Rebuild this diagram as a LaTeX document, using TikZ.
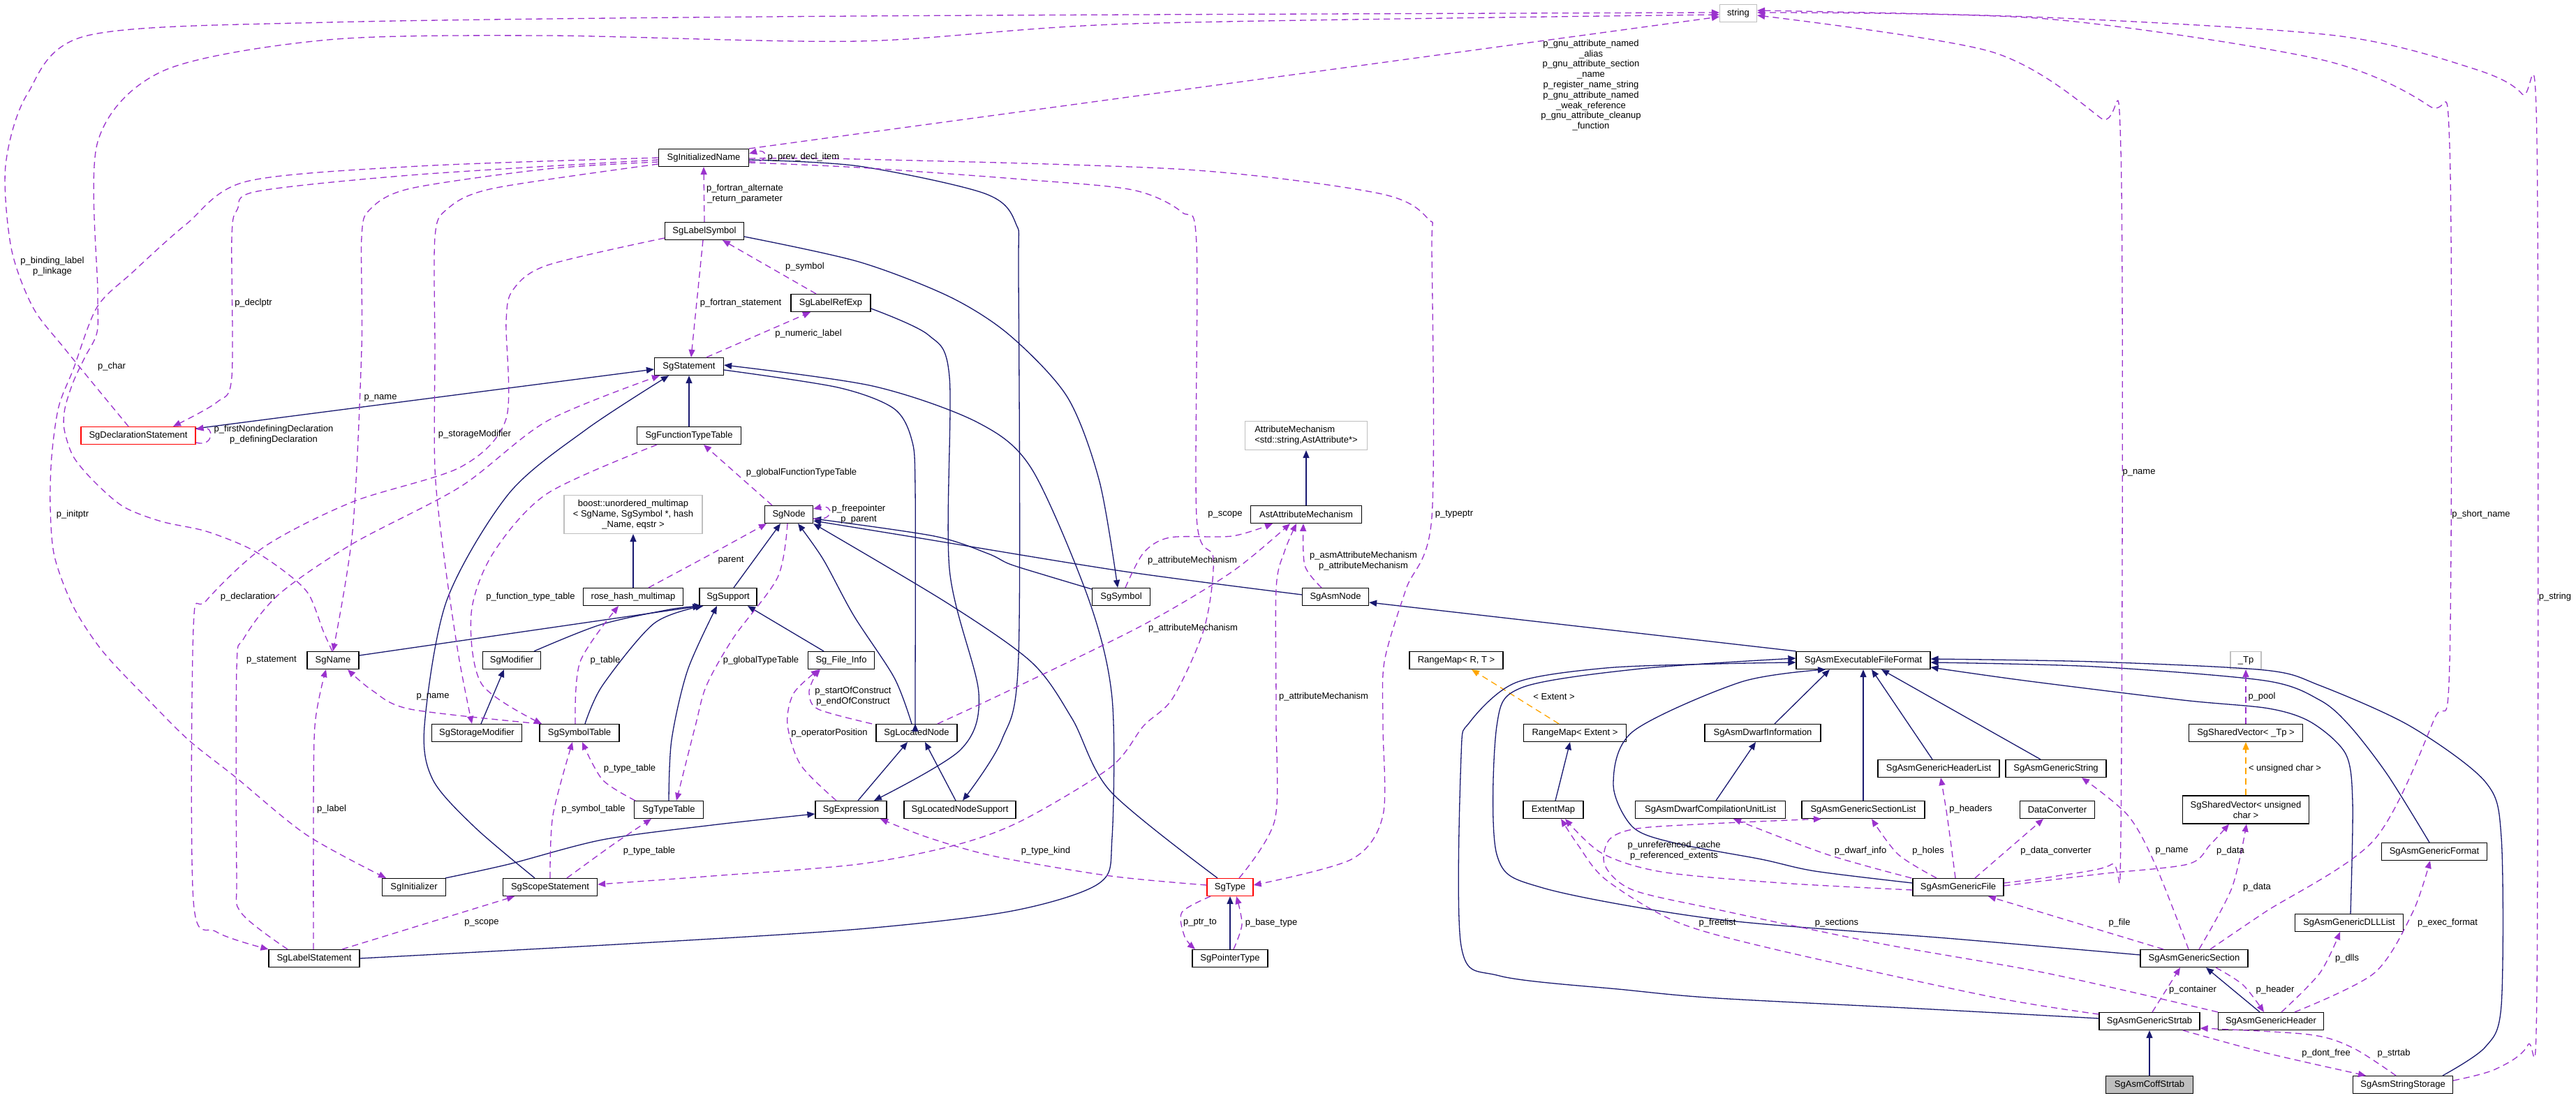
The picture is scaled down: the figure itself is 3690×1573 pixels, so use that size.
\documentclass[tikz,border=0pt]{standalone}
\usepackage{fontspec}
\setmainfont{Liberation Sans}
\usetikzlibrary{arrows.meta}
\definecolor{navyc}{HTML}{191970}
\definecolor{purp}{HTML}{9A32CD}
\definecolor{grayb}{HTML}{BFBFBF}
\definecolor{orng}{HTML}{FFA500}
\newcommand\dfont{\fontsize{13}{14.8}\selectfont}
\newcommand\mkn[6][]{\node[cls,minimum width=#5pt,#1] (#2) at (#3,#4) {#6};}
\tikzset{
 cls/.style={draw=black, line width=1.2pt, fill=white, minimum height=25pt, inner sep=0pt, font=\dfont},
 graycls/.style={draw=grayb},
 redcls/.style={draw=red},
 inh/.style={draw=navyc, line width=1.3pt, -{Triangle[length=11pt,width=9pt]}},
 use/.style={draw=purp, line width=1.3pt, dash pattern=on 9pt off 6pt, -{Triangle[length=11pt,width=9pt]}},
 tmpl/.style={draw=orng, line width=1.3pt, dash pattern=on 9pt off 6pt, -{Triangle[length=11pt,width=9pt]}},
 lbl/.style={font=\dfont, inner sep=0pt, align=center},
}
\begin{document}
\begin{tikzpicture}[x=1pt,y=-1pt]
\fill[white] (0,0) rectangle (3690,1573);
\useasboundingbox (0,0) rectangle (3690,1573);
% nodes
\mkn[graycls]{string}{2490}{19}{53}{string}
\mkn{InitN}{1008}{226}{129}{SgInitializedName}
\mkn{LabSym}{1009}{331}{113}{SgLabelSymbol}
\mkn{LabRef}{1190}{434}{114}{SgLabelRefExp}
\mkn{Stmt}{987}{525}{99}{SgStatement}
\mkn[redcls]{Decl}{198}{624}{164}{SgDeclarationStatement}
\mkn{FTT}{987}{624}{149}{SgFunctionTypeTable}
\mkn[graycls,minimum height=55pt,align=center]{Boost}{907}{737}{198}{boost::unordered\_multimap\\< SgName, SgSymbol *, hash\\\_Name, eqstr >}
\mkn[graycls,minimum height=41pt,align=left]{AttrM}{1871}{624}{175}{AttributeMechanism\\<std::string,AstAttribute*>}
\mkn{Node}{1130}{737}{69}{SgNode}
\mkn{AstAM}{1871}{737}{159}{AstAttributeMechanism}
\mkn{RHM}{907}{855}{143}{rose\_hash\_multimap}
\mkn{Supp}{1043}{855}{82}{SgSupport}
\mkn{Sym}{1606}{855}{83}{SgSymbol}
\mkn{AsmNode}{1913}{855}{95}{SgAsmNode}
\mkn{Name}{477}{946}{74}{SgName}
\mkn{Mod}{733}{946}{83}{SgModifier}
\mkn{FI}{1205}{946}{95}{Sg\_File\_Info}
\mkn{RMRT}{2086}{946}{134}{RangeMap< R, T >}
\mkn{EFF}{2669}{946}{192}{SgAsmExecutableFileFormat}
\mkn[graycls]{Tp}{3217}{946}{44}{\_Tp}
\mkn{SMod}{683}{1050}{129}{SgStorageModifier}
\mkn{SymT}{830}{1050}{114}{SgSymbolTable}
\mkn{LN}{1313}{1050}{116}{SgLocatedNode}
\mkn{RME}{2256}{1050}{147}{RangeMap< Extent >}
\mkn{DI}{2525}{1050}{166}{SgAsmDwarfInformation}
\mkn{SVTp}{3217}{1050}{163}{SgSharedVector< \_Tp >}
\mkn{GHL}{2777}{1101}{174}{SgAsmGenericHeaderList}
\mkn{GS}{2945}{1101}{144}{SgAsmGenericString}
\mkn{TT}{958}{1160}{99}{SgTypeTable}
\mkn{Expr}{1219}{1160}{102}{SgExpression}
\mkn{LNS}{1375}{1160}{160}{SgLocatedNodeSupport}
\mkn{EM}{2225}{1160}{86}{ExtentMap}
\mkn{DCU}{2450}{1160}{215}{SgAsmDwarfCompilationUnitList}
\mkn{GSL}{2669}{1160}{176}{SgAsmGenericSectionList}
\mkn{DC}{2947}{1160}{107}{DataConverter}
\mkn[minimum height=40pt,align=center]{SVuc}{3217}{1160}{181}{SgSharedVector< unsigned\\char >}
\mkn{GF}{3487}{1220}{151}{SgAsmGenericFormat}
\mkn{Init}{593}{1271}{91}{SgInitializer}
\mkn{Scope}{788}{1271}{135}{SgScopeStatement}
\mkn[redcls]{Type}{1762}{1271}{66}{SgType}
\mkn{GFile}{2805}{1271}{130}{SgAsmGenericFile}
\mkn{DLL}{3365}{1322}{155}{SgAsmGenericDLLList}
\mkn{LabSt}{450}{1373}{130}{SgLabelStatement}
\mkn{PT}{1762}{1373}{108}{SgPointerType}
\mkn{GSec}{3143}{1373}{154}{SgAsmGenericSection}
\mkn{Strtab}{3079}{1463}{144}{SgAsmGenericStrtab}
\mkn{GH}{3253}{1463}{151}{SgAsmGenericHeader}
\mkn[fill=grayb]{Coff}{3079}{1554}{125}{SgAsmCoffStrtab}
\mkn{SS}{3442}{1554}{143}{SgAsmStringStorage}
% inheritance
\draw[inh] ([yshift=-3pt]Decl.north east) -- ([yshift=-4pt]Stmt.west);
\draw[inh] (FTT.north) -- (Stmt.south);
\draw[inh] plot[smooth] coordinates {([xshift=-22pt]Scope.north) (680,1185) (620,1117) (608,1040) (640,860) (729,707) (840,615) ([xshift=-29pt]Stmt.south)};
\draw[inh] plot[smooth] coordinates {(LabSt.east) (900,1352) (1230,1331) (1450,1305) (1575,1265) (1593,1200) (1593,1000) (1560,860) (1478,672) (1400,605) (1250,553) ([yshift=2pt]Stmt.east)};
\draw[inh] plot[smooth] coordinates {([yshift=-5pt]Stmt.east) (1200,555) (1280,585) (1306,630) (1311,700) (1311,1000) ([xshift=-2pt]LN.north)};
\draw[inh] plot[smooth] coordinates {([yshift=-8pt]LabSym.east) (1230,375) (1360,425) (1446,480) (1529,569) (1575,690) ([xshift=-5pt]Sym.north)};
\draw[inh] plot[smooth] coordinates {([yshift=-3pt]InitN.east) (1230,238) (1410,277) (1455,320) (1459,400) (1459,940) (1435,1060) ([xshift=4pt]LNS.north)};
\draw[inh] plot[smooth] coordinates {([yshift=-8pt]LabRef.east) (1330,480) (1360,540) (1360,815) (1402,993) (1376,1074) ([xshift=33pt]Expr.north)};
\draw[inh] ([xshift=10pt]Expr.north) -- ([xshift=-13pt]LN.south);
\draw[inh] plot[smooth] coordinates {([xshift=45pt]Init.north) (729,1238) (863,1203) (1020,1182) ([yshift=-6pt]Expr.west)};
\draw[inh] plot[smooth] coordinates {([xshift=-7pt]LN.north) (1281,971) (1223,882) (1179,801) ([xshift=13pt]Node.south)};
\draw[inh] ([xshift=-6pt]LNS.north) -- ([xshift=12pt]LN.south);
\draw[inh] ([xshift=8pt]Supp.north) -- ([xshift=-12pt]Node.south);
\draw[inh] plot[smooth] coordinates {([xshift=-18pt]Type.north) (1591,1134) (1536,1030) (1478,949) (1357,864) (Node.south east)};
\draw[inh] plot[smooth] coordinates {([yshift=11pt]Sym.west) (1497,824) (1446,808) (1415,793) (1338,768) ([yshift=-6pt]Node.east)};
\draw[inh] plot[smooth] coordinates {([yshift=3pt]AsmNode.west) (1606,818) (1300,768) ([yshift=-9pt]Node.east)};
\draw[inh] (AstAM.north) -- (AttrM.south);
\draw[inh] (EFF.north west) -- ([yshift=-8pt]AsmNode.east);
\draw[inh] (RHM.north) -- (Boost.south);
\draw[inh] ([yshift=7pt]Name.east) -- ([xshift=2pt]Supp.south west);
\draw[inh] plot[smooth] coordinates {([xshift=32pt]Mod.north) (860,895) (960,873) ([xshift=4pt]Supp.south west)};
\draw[inh] ([xshift=6pt]SMod.north) -- ([xshift=-11pt]Mod.south);
\draw[inh] plot[smooth] coordinates {([xshift=8pt]SymT.north) (863,982) (937,893) ([xshift=6pt]Supp.south west)};
\draw[inh] plot[smooth] coordinates {(TT.north) (962,1060) (985,960) ([xshift=-16pt]Supp.south)};
\draw[inh] ([xshift=-25pt]FI.north) -- ([xshift=28pt]Supp.south);
\draw[inh] ([xshift=17pt]DI.north) -- ([xshift=-48pt]EFF.south);
\draw[inh] ([xshift=8pt]DCU.north) -- ([xshift=-10pt]DI.south);
\draw[inh] (GSL.north) -- (EFF.south);
\draw[inh] ([xshift=-9pt]GHL.north) -- ([xshift=12pt]EFF.south);
\draw[inh] ([xshift=-22pt]GS.north) -- ([xshift=26pt]EFF.south);
\draw[inh] plot[smooth] coordinates {([yshift=6pt]GFile.west) (2600,1248) (2523,1231) (2400,1208) (2339,1185) (2311,1124) (2339,1048) (2494,977) ([xshift=-54pt]EFF.south)};
\draw[tmpl] ([xshift=-23pt]RME.north) -- ([xshift=22pt]RMRT.south);
\draw[inh] ([xshift=3pt]EM.north) -- ([xshift=-7pt]RME.south);
\draw[inh] plot[smooth] coordinates {([yshift=4pt]Strtab.west) (2750,1445) (2460,1430) (2328,1418) (2148,1398) (2093,1355) (2093,1082) (2105,1035) (2171,978) (2300,957) (2460,951) ([yshift=-3pt]EFF.west)};
\draw[inh] plot[smooth] coordinates {([yshift=5pt]GSec.west) (2800,1345) (2460,1317) (2210,1272) (2144,1224) (2144,1040) (2180,985) (2350,958) ([yshift=3pt]EFF.west)};
\draw[inh] ([xshift=-16pt]GH.north) -- ([xshift=17pt]GSec.south);
\draw[inh] (Coff.north) -- (Strtab.south);
\draw[inh] plot[smooth] coordinates {([xshift=2pt]DLL.north) (3370,1150) (3360,1080) (3311,1035) (3250,1015) (3127,1003) (2900,975) ([yshift=-10pt]EFF.east)};
\draw[inh] plot[smooth] coordinates {([xshift=-7pt]GF.north) (3420,1110) (3366,1040) (3323,1003) (3244,975) (3000,955) ([yshift=-3pt]EFF.east)};
\draw[inh] plot[smooth] coordinates {([xshift=57pt]SS.north) (3560,1500) (3583,1440) (3583,1200) (3560,1120) (3452,1040) (3323,982) (3244,960) (3000,948) ([yshift=2pt]EFF.east)};
\draw[inh] (PT.north) -- (Type.south);
% usage
\draw[use] (InitN.north east) -- ([yshift=-5pt]string.west);
\draw[use] ([yshift=-5pt]InitN.east) .. controls (1102,236) and (1102,212) .. ([yshift=6pt]InitN.east);
\draw[use] (LabSym.north) -- (InitN.south);
\draw[use] ([xshift=-21pt]LabRef.north) -- ([xshift=26pt]LabSym.south);
\draw[use] ([xshift=-2pt]LabSym.south) -- ([xshift=3pt]Stmt.north);
\draw[use] ([xshift=25pt]Stmt.north) -- ([xshift=-29pt]LabRef.south);
\draw[use] plot[smooth] coordinates {([xshift=-14pt]Decl.north) (93,500) (47,440) (16,355) (8,237) (39,135) (125,51) (470,32) (1230,23) ([yshift=1pt]string.west)};
\draw[use] plot[smooth] coordinates {([xshift=-1pt]Name.north) (463,904) (442,851) (408,819) (358,786) (295,761) (231,747) (177,726) (135,690) (105,654) (92,615) (93,585) (105,547) (122,511) (139,476) (140,420) (140,203) (235,101) (470,57) (784,51) (1230,59) (1622,34) ([yshift=-2pt]string.west)};
\draw[use] plot[smooth] coordinates {(InitN.west) (600,238) (353,260) (267,321) (190,390) (139,440) (105,529) (84,583) (74,654) (72,726) (78,797) (105,869) (147,933) (210,1000) (270,1060) (337,1113) (439,1196) ([xshift=-40pt]Init.north)};
\draw[use] plot[smooth] coordinates {([yshift=-3pt]InitN.west) (600,250) (369,274) (340,300) (332,340) (332,540) (311,576) ([xshift=50pt]Decl.north)};
\draw[use] plot[smooth] coordinates {([yshift=-6pt]InitN.west) (784,242) (588,270) (530,300) (518,340) (518,500) (505,761) (Name.north)};
\draw[use] plot[smooth] coordinates {([yshift=-9pt]InitN.west) (706,270) (640,300) (623,340) (623,500) (623,672) (636,797) (657,940) ([xshift=-7pt]SMod.north)};
\draw[use] plot[smooth] coordinates {([yshift=-10pt]LabSym.west) (784,380) (735,415) (725,460) (725,600) (660,669) (505,719) (379,783) (295,861) (277,900) (277,1290) (310,1335) (LabSt.north west)};
\draw[use] plot[smooth] coordinates {([xshift=-38pt]LabSt.north) (345,1307) (339,1250) (339,958) (349,915) (400,851) (505,779) (660,697) (784,603) ([xshift=-42pt]Stmt.south)};
\draw[use] plot[smooth] coordinates {([xshift=-1pt]LabSt.north) (449,1200) (451,1040) ([xshift=-10pt]Name.south)};
\draw[use] ([xshift=40pt]LabSt.north) -- ([xshift=-51pt]Scope.south);
\draw[use] plot[smooth] coordinates {(Scope.north) (792,1168) ([xshift=-10pt]SymT.south)};
\draw[use] plot[smooth] coordinates {([xshift=-48pt]TT.north) (863,1117) ([xshift=4pt]SymT.south)};
\draw[use] plot[smooth] coordinates {([xshift=24pt]Scope.north) (878,1210) ([xshift=-25pt]TT.south)};
\draw[use] plot[smooth] coordinates {([xshift=-46pt]FTT.south) (784,707) (706,793) (675,879) (690,980) ([xshift=-54pt]SymT.north)};
\draw[use] plot[smooth] coordinates {([xshift=-6pt]SymT.north) (831,948) ([xshift=-21pt]RHM.south)};
\draw[use] plot[smooth] coordinates {([xshift=22pt]RHM.north) (1020,793) ([xshift=-32pt]Node.south)};
\draw[use] ([xshift=-24pt]Node.north) -- ([xshift=21pt]FTT.south);
\draw[use] plot[smooth] coordinates {([xshift=-2pt]Node.south) (1114,827) (1051,913) (1012,982) (996,1040) ([xshift=11pt]TT.north)};
\draw[use] ([yshift=-6pt]Node.east) .. controls (1195,748) and (1195,722) .. ([yshift=8pt]Node.east);
\draw[use] plot[smooth] coordinates {([xshift=-57pt]SymT.north) (588,1016) (533,989) ([xshift=21pt]Name.south)};
\draw[use] plot[smooth] coordinates {([yshift=3pt]Type.west) (1591,1255) (1426,1227) (1330,1200) ([xshift=42pt]Expr.south)};
\draw[use] plot[smooth] coordinates {([yshift=-7pt]InitN.east) (1230,240) (1465,257) (1622,272) (1693,304) (1714,350) (1714,740) (1738,800) (1725,900) (1680,1000) (1638,1040) (1591,1099) (1465,1175) (1371,1210) (1230,1238) (1020,1255) ([yshift=4pt]Scope.east)};
\draw[use] plot[smooth] coordinates {([yshift=-1pt]InitN.east) (1230,228) (1700,243) (1975,277) (2046,314) (2051,360) (2051,741) (2014,844) (1983,948) (1981,1040) (1981,1168) (1936,1231) ([yshift=3pt]Type.east)};
\draw[use] plot[smooth] coordinates {([xshift=6pt]Sym.north) (1638,792) (1676,770) (1765,768) ([xshift=-48pt]AstAM.south)};
\draw[use] plot[smooth] coordinates {([xshift=30pt]LN.north) (1446,989) (1638,895) (1765,819) ([xshift=-23pt]AstAM.south)};
\draw[use] plot[smooth] coordinates {([xshift=13pt]Type.north) (1826,1175) (1828,1030) (1828,844) (1840,790) ([xshift=-14pt]AstAM.south)};
\draw[use] plot[smooth] coordinates {([xshift=-20pt]AsmNode.north) (1869,810) ([xshift=-4pt]AstAM.south)};
\draw[use] plot[smooth] coordinates {([xshift=-64pt]LN.north) (1172,1016) (1159,993) (1166,971) ([xshift=-30pt]FI.south)};
\draw[use] plot[smooth] coordinates {([xshift=-21pt]Expr.north) (1147,1096) (1128,1038) (1137,993) ([xshift=-32pt]FI.south)};
\draw[use] plot[smooth] coordinates {([xshift=-28pt]Type.south) (1693,1307) (1697,1342) ([xshift=-50pt]PT.north)};
\draw[use] plot[smooth] coordinates {([xshift=5pt]PT.north) (1779,1324) ([xshift=9pt]Type.south)};
\draw[use] plot[smooth] coordinates {([yshift=6pt]GFile.east) (2946,1255) (3025,1238) (3038,1190) (3038,216) (3009,169) (2852,74) ([yshift=-3pt]string.east)};
\draw[use] plot[smooth] coordinates {([xshift=23pt]GSec.north) (3244,1307) (3401,1203) (3487,1030) (3509,948) (3509,210) (3480,152) (3323,85) (2931,27) ([yshift=1pt]string.east)};
\draw[use] plot[smooth] coordinates {([yshift=6pt]SS.east) (3574,1532) (3621,1497) (3634,1411) (3634,203) (3613,135) (3542,98) (3346,51) (2931,25) ([yshift=4pt]string.east)};
\draw[use] (SVTp.north) -- (Tp.south);
\draw[tmpl] (SVuc.north) -- (SVTp.south);
\draw[use] plot[smooth] coordinates {([yshift=2pt]GFile.east) (3009,1252) (3134,1238) (3166,1210) ([xshift=-24pt]SVuc.south)};
\draw[use] plot[smooth] coordinates {([xshift=7pt]GSec.north) (3197,1272) ([xshift=1pt]SVuc.south)};
\draw[use] plot[smooth] coordinates {([xshift=-8pt]GSec.north) (3087,1238) (3048,1168) ([xshift=37pt]GS.south)};
\draw[use] ([xshift=-44pt]GSec.north) -- ([xshift=43pt]GFile.south);
\draw[use] plot[smooth] coordinates {([xshift=-4pt]GFile.north) (2789,1168) ([xshift=3pt]GHL.south)};
\draw[use] plot[smooth] coordinates {([xshift=-31pt]GFile.north) (2719,1224) ([xshift=12pt]GSL.south)};
\draw[use] plot[smooth] coordinates {([xshift=-67pt]GFile.north) (2617,1224) ([xshift=33pt]DCU.south)};
\draw[use] ([xshift=24pt]GFile.north) -- ([xshift=-20pt]DC.south);
\draw[use] plot[smooth] coordinates {([yshift=-4pt]GFile.west) (2552,1265) (2380,1249) (2294,1222) ([xshift=17pt]EM.south)};
\draw[use] plot[smooth] coordinates {(GH.north west) (2931,1394) (2695,1352) (2460,1303) (2339,1275) (2299,1240) (2305,1203) (2345,1187) (2450,1180) ([xshift=-60pt]GSL.south)};
\draw[use] plot[smooth] coordinates {([yshift=10pt]Strtab.west) (2852,1428) (2538,1359) (2400,1320) (2300,1260) (2260,1210) ([xshift=11pt]EM.south)};
\draw[use] plot[smooth] coordinates {([xshift=4pt]Strtab.north) (3103,1418) ([xshift=-20pt]GSec.south)};
\draw[use] plot[smooth] coordinates {([xshift=31pt]GSec.south) (3213,1411) ([xshift=-10pt]GH.north)};
\draw[use] plot[smooth] coordinates {([xshift=15pt]GH.north) (3323,1394) ([xshift=-13pt]DLL.south)};
\draw[use] plot[smooth] coordinates {([xshift=34pt]GH.north) (3401,1394) (3456,1307) ([xshift=-6pt]GF.south)};
\draw[use] plot[smooth] coordinates {([xshift=48pt]Strtab.south) (3244,1508) ([xshift=-53pt]SS.north)};
\draw[use] plot[smooth] coordinates {([xshift=-10pt]SS.north) (3370,1501) (3307,1482) ([yshift=-10pt]Strtab.east)};
\draw[use] ([yshift=-10pt]Decl.east) .. controls (307,641) and (307,610) .. ([yshift=9pt]Decl.east);
% labels
\node[lbl] (L1) at (2279,122) {p\_gnu\_attribute\_named\\\_alias\\p\_gnu\_attribute\_section\\\_name\\p\_register\_name\_string\\p\_gnu\_attribute\_named\\\_weak\_reference\\p\_gnu\_attribute\_cleanup\\\_function};
\node[lbl] (L2) at (1151,225) {p\_prev\_decl\_item};
\node[lbl] (L3) at (1067,278) {p\_fortran\_alternate\\\_return\_parameter};
\node[lbl] (L4) at (1153,382) {p\_symbol};
\node[lbl] (L5) at (1061,434) {p\_fortran\_statement};
\node[lbl] (L6) at (1158,478) {p\_numeric\_label};
\node[lbl] (L7) at (75,382) {p\_binding\_label\\p\_linkage};
\node[lbl] (L8) at (160,525) {p\_char};
\node[lbl] (L9) at (104,737) {p\_initptr};
\node[lbl] (L10) at (363,434) {p\_declptr};
\node[lbl] (L11) at (545,570) {p\_name};
\node[lbl] (L12) at (680,622) {p\_storageModifier};
\node[lbl] (L13) at (355,855) {p\_declaration};
\node[lbl] (L14) at (389,946) {p\_statement};
\node[lbl] (L15) at (475,1159) {p\_label};
\node[lbl] (L16) at (690,1322) {p\_scope};
\node[lbl] (L17) at (850,1159) {p\_symbol\_table};
\node[lbl] (L18) at (902,1101) {p\_type\_table};
\node[lbl] (L19) at (930,1219) {p\_type\_table};
\node[lbl] (L20) at (760,855) {p\_function\_type\_table};
\node[lbl] (L21) at (867,946) {p\_table};
\node[lbl] (L22) at (1047,803) {parent};
\node[lbl] (L23) at (1148,677) {p\_globalFunctionTypeTable};
\node[lbl] (L24) at (1090,946) {p\_globalTypeTable};
\node[lbl] (L25) at (1230,737) {p\_freepointer\\p\_parent};
\node[lbl] (L26) at (620,998) {p\_name};
\node[lbl] (L27) at (1498,1219) {p\_type\_kind};
\node[lbl] (L28) at (1755,737) {p\_scope};
\node[lbl] (L29) at (2083,737) {p\_typeptr};
\node[lbl] (L30) at (1708,803) {p\_attributeMechanism};
\node[lbl] (L31) at (1709,900) {p\_attributeMechanism};
\node[lbl] (L32) at (1896,998) {p\_attributeMechanism};
\node[lbl] (L33) at (1953,804) {p\_asmAttributeMechanism\\p\_attributeMechanism};
\node[lbl] (L34) at (1222,998) {p\_startOfConstruct\\p\_endOfConstruct};
\node[lbl] (L35) at (1188,1050) {p\_operatorPosition};
\node[lbl] (L36) at (1719,1322) {p\_ptr\_to};
\node[lbl] (L37) at (1821,1322) {p\_base\_type};
\node[lbl] (L38) at (3064,677) {p\_name};
\node[lbl] (L39) at (3554,737) {p\_short\_name};
\node[lbl] (L40) at (3660,855) {p\_string};
\node[lbl] (L41) at (3240,998) {p\_pool};
\node[lbl] (L42) at (3273,1101) {< unsigned char >};
\node[lbl] (L43) at (3195,1219) {p\_data};
\node[lbl] (L44) at (3233,1271) {p\_data};
\node[lbl] (L45) at (3111,1219) {p\_name};
\node[lbl] (L46) at (3036,1322) {p\_file};
\node[lbl] (L47) at (2823,1159) {p\_headers};
\node[lbl] (L48) at (2762,1219) {p\_holes};
\node[lbl] (L49) at (2665,1219) {p\_dwarf\_info};
\node[lbl] (L50) at (2945,1219) {p\_data\_converter};
\node[lbl] (L51) at (2398,1219) {p\_unreferenced\_cache\\p\_referenced\_extents};
\node[lbl] (L52) at (2631,1322) {p\_sections};
\node[lbl] (L53) at (2460,1322) {p\_freelist};
\node[lbl] (L54) at (3141,1418) {p\_container};
\node[lbl] (L55) at (3259,1418) {p\_header};
\node[lbl] (L56) at (3362,1373) {p\_dlls};
\node[lbl] (L57) at (3506,1322) {p\_exec\_format};
\node[lbl] (L58) at (3332,1509) {p\_dont\_free};
\node[lbl] (L59) at (3429,1509) {p\_strtab};
\node[lbl] (L60) at (392,623) {p\_firstNondefiningDeclaration\\p\_definingDeclaration};
\node[lbl] (L61) at (2226,998) {< Extent >};
\end{tikzpicture}
\end{document}
